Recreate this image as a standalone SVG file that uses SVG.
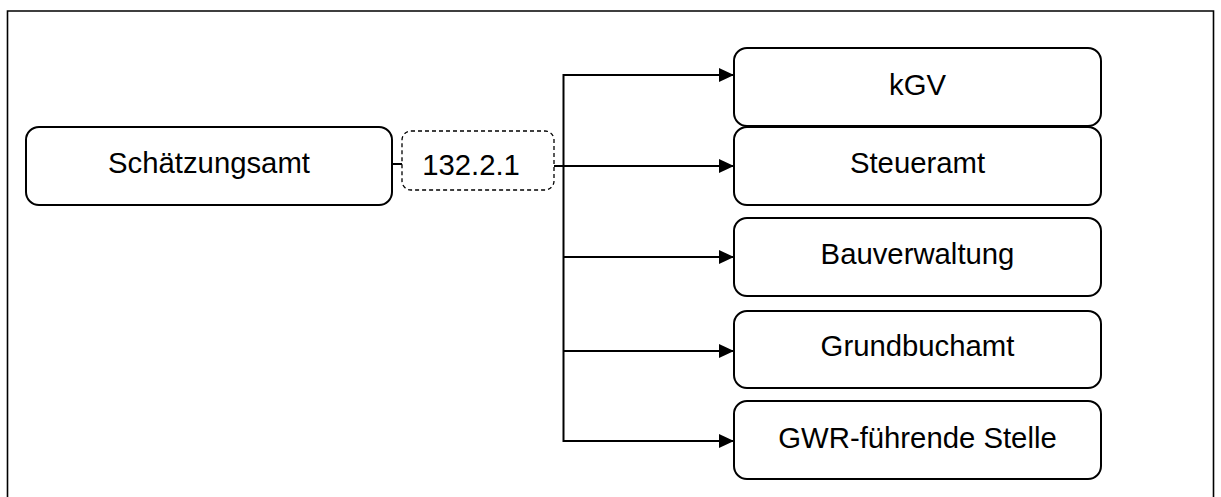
<svg xmlns="http://www.w3.org/2000/svg" width="1221" height="497" viewBox="0 0 1221 497">
<style>
.box{fill:#fff;stroke:#000;stroke-width:2}
.dash{fill:#fff;stroke:#000;stroke-width:1.3;stroke-dasharray:4 3}
.lbl{font-family:"Liberation Sans",Arial,sans-serif;font-size:29.3px;fill:#000;text-anchor:middle}
.con{fill:none;stroke:#000;stroke-width:2}
</style>
<defs>
<marker id="arr" markerUnits="userSpaceOnUse" markerWidth="15" markerHeight="15" viewBox="0 0 15 14" refX="15" refY="7" orient="auto">
<path d="M0,0 L15,7 L0,14 Z" fill="#000"/>
</marker>
</defs>
<rect width="1221" height="497" fill="#fff"/>
<path d="M7.5,510 V11 H1213.5 V510" fill="none" stroke="#000" stroke-width="1.6"/>
<g id="connectors">
<line class="con" x1="392" y1="164" x2="402" y2="164"/>
<line class="con" x1="554" y1="166" x2="734" y2="166" marker-end="url(#arr)"/>
<line class="con" x1="563.5" y1="74" x2="563.5" y2="442" stroke-width="2.6"/>
<line class="con" x1="563" y1="75" x2="734" y2="75" marker-end="url(#arr)"/>
<line class="con" x1="563" y1="257" x2="734" y2="257" marker-end="url(#arr)"/>
<line class="con" x1="563" y1="351" x2="734" y2="351" marker-end="url(#arr)"/>
<line class="con" x1="563" y1="441" x2="734" y2="441" marker-end="url(#arr)"/>
</g>
<g id="schaetzungsamt">
<rect class="box" x="26" y="127" width="366" height="78" rx="13"/>
<text class="lbl" x="209" y="173">Schätzungsamt</text>
</g>
<g id="code">
<rect class="dash" x="402" y="131" width="152" height="59" rx="9"/>
<text class="lbl" x="471" y="175">132.2.1</text>
</g>
<g id="kgv">
<rect class="box" x="734" y="48" width="367" height="78" rx="13"/>
<text class="lbl" x="917.5" y="95">kGV</text>
</g>
<g id="steueramt">
<rect class="box" x="734" y="127" width="367" height="78" rx="13"/>
<text class="lbl" x="917.5" y="173">Steueramt</text>
</g>
<g id="bauverwaltung">
<rect class="box" x="734" y="218" width="367" height="78" rx="13"/>
<text class="lbl" x="917.5" y="264">Bauverwaltung</text>
</g>
<g id="grundbuchamt">
<rect class="box" x="734" y="311" width="367" height="77" rx="13"/>
<text class="lbl" x="917.5" y="356">Grundbuchamt</text>
</g>
<g id="gwr">
<rect class="box" x="734" y="401" width="367" height="78" rx="13"/>
<text class="lbl" x="917.5" y="448">GWR-führende Stelle</text>
</g>
</svg>
